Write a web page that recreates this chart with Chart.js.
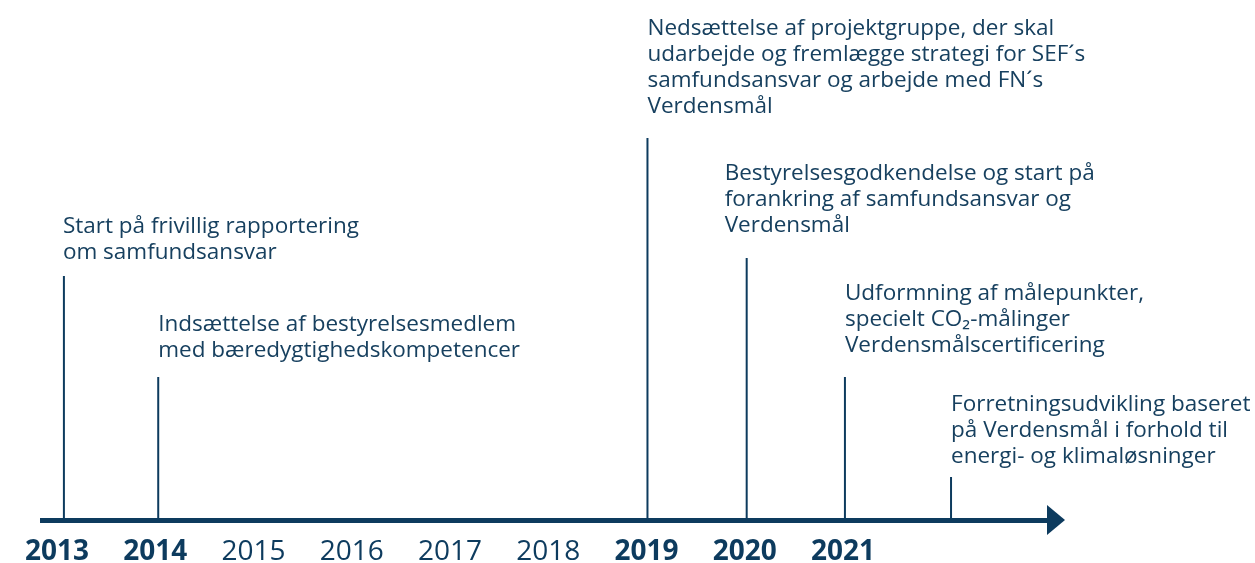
<!DOCTYPE html>
<html>
<head>
<meta charset="utf-8">
<script src="https://cdn.jsdelivr.net/npm/chart.js@4"></script>
<style>
  html, body { margin: 0; padding: 0; background: #fff; }
</style>
</head>
<body>
<canvas id="timeline" width="1255" height="563"></canvas>
<script>
// tick labels on the time axis
const years = [2013, 2014, 2015, 2016, 2017, 2018, 2019, 2020, 2021];
const boldYears = [2013, 2014, 2019, 2020, 2021];

// milestones: where they sit on the axis and how tall the marker is
const eventYears = [2013.07, 2014.03, 2019.01, 2020.02, 2021.02, 2022.1];
const eventHeights = [48.8, 28.6, 76.4, 52.4, 28.6, 8.6];
const eventTexts = [
    ["Start på frivillig rapportering", "om samfundsansvar"],
    ["Indsættelse af bestyrelsesmedlem", "med bæredygtighedskompetencer"],
    ["Nedsættelse af projektgruppe, der skal", "udarbejde og fremlægge strategi for SEF´s", "samfundsansvar og arbejde med FN´s", "Verdensmål"],
    ["Bestyrelsesgodkendelse og start på", "forankring af samfundsansvar og", "Verdensmål"],
    ["Udformning af målepunkter,", "specielt CO\u2082-målinger", "Verdensmålscertificering"],
    ["Forretningsudvikling baseret", "på Verdensmål i forhold til", "energi- og klimaløsninger"],
];

const navy = "#0d3b5e";
const textColor = "#17405f";
const fontFamily = "'Open Sans', sans-serif";

// text block offset from the top of each marker: [dx, gap above marker]
const textShift = [[-1, 17], [0, 20], [0, 25], [-22, 26], [0, 25], [0, 14]];
const lineGap = 26;

const datasets = eventYears.map((yr, i) => ({
    data: [{x: yr, y: 0}, {x: yr, y: eventHeights[i]}],
    showLine: true,
    borderColor: navy,
    borderWidth: 2,
    pointRadius: 0,
}));

const timelinePlugin = {
    id: "timeline",
    afterDatasetsDraw(chart) {
        const {ctx, chartArea, scales} = chart;
        const y0 = scales.y.getPixelForValue(0);
        ctx.save();
        // arrow head at the end of the axis
        ctx.fillStyle = navy;
        ctx.beginPath();
        ctx.moveTo(chartArea.right - 1, y0 - 15);
        ctx.lineTo(chartArea.right + 17, y0);
        ctx.lineTo(chartArea.right - 1, y0 + 15);
        ctx.closePath();
        ctx.fill();
        // milestone texts
        ctx.font = "22.5px " + fontFamily;
        ctx.fillStyle = textColor;
        ctx.textAlign = "left";
        ctx.textBaseline = "alphabetic";
        eventTexts.forEach((lines, i) => {
            const top = chart.getDatasetMeta(i).data[1];
            const [dx, gap] = textShift[i];
            lines.forEach((line, j) => {
                ctx.fillText(line, top.x + dx, top.y - gap - (lines.length - 1 - j) * lineGap);
            });
        });
        ctx.restore();
    }
};

new Chart(document.getElementById("timeline"), {
    type: "scatter",
    data: {datasets: datasets},
    plugins: [timelinePlugin],
    options: {
        responsive: false,
        devicePixelRatio: 1,
        animation: false,
        layout: {padding: {left: 42, right: 207, top: 20, bottom: 0}},
        plugins: {legend: {display: false}, tooltip: {enabled: false}},
        scales: {
            x: {
                type: "linear",
                min: 2012.847,
                max: 2023.087,
                afterBuildTicks: (scale) => { scale.ticks = years.map(v => ({value: v})); },
                afterFit: (scale) => { scale.height = 43; },
                grid: {display: false, drawTicks: false},
                border: {display: true, color: navy, width: 5},
                ticks: {
                    autoSkip: false,
                    maxRotation: 0,
                    padding: 15,
                    color: navy,
                    callback: (v) => String(v),
                    font: (c) => ({
                        family: fontFamily,
                        size: 28,
                        weight: boldYears.includes(c.tick && c.tick.value) ? "bold" : "normal",
                    }),
                },
            },
            y: {
                display: false,
                min: 0,
                max: 100,
            },
        },
    },
});
</script>
</body>
</html>
